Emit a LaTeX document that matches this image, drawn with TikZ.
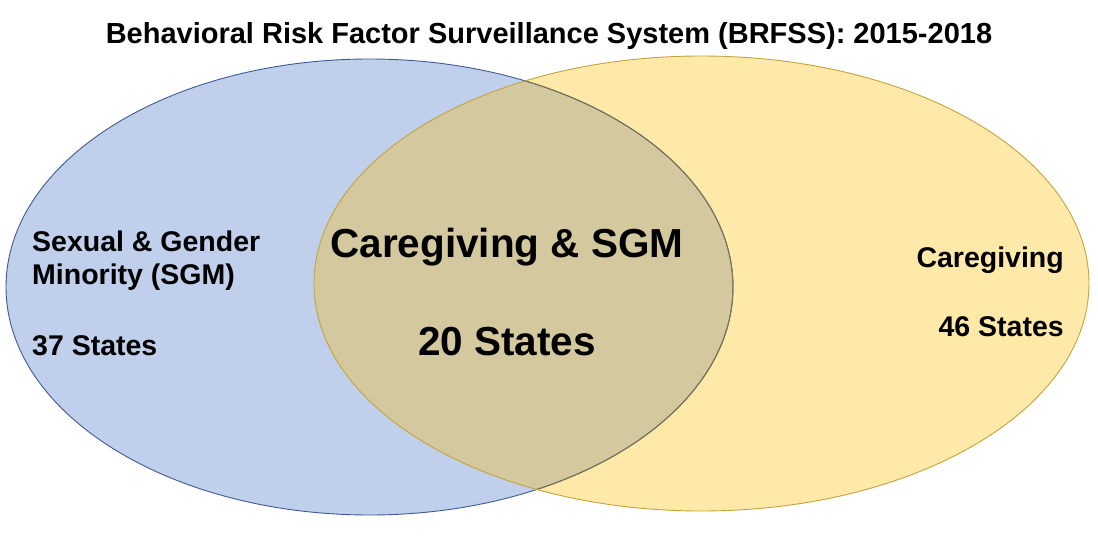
\documentclass[tikz,border=0pt]{standalone}
\usepackage{fontspec}
\setmainfont{Liberation Sans}
\definecolor{bluefill}{HTML}{C0CFEB}
\definecolor{blueline}{HTML}{3E5B94}
\definecolor{yelfill}{HTML}{FEE9A9}
\definecolor{yelline}{HTML}{C4A43C}
\definecolor{overfill}{HTML}{D4C99E}
\definecolor{overline}{HTML}{7E7452}
\tikzset{
  lbl/.style={inner sep=0pt, font=\bfseries\fontsize{28.5}{32}\selectfont},
  big/.style={inner sep=0pt, font=\bfseries\fontsize{40.5}{46}\selectfont},
  ttl/.style={inner sep=0pt, font=\bfseries\fontsize{29}{32}\selectfont}
}
\begin{document}
\begin{tikzpicture}[x=1pt,y=-1pt]
\useasboundingbox (0,0) rectangle (1098,543);
\fill[white] (0,0) rectangle (1098,543);
% ellipse fills
\fill[bluefill] (369.5,287) ellipse [x radius=363.5, y radius=228];
\fill[yelfill] (701.5,283.5) ellipse [x radius=387.5, y radius=227.5];
\begin{scope}
  \clip (369.5,287) ellipse [x radius=363.5, y radius=228];
  \fill[overfill] (701.5,283.5) ellipse [x radius=387.5, y radius=227.5];
\end{scope}
% borders
\draw[blueline, line width=0.9pt] (369.5,287) ellipse [x radius=363.5, y radius=228];
\begin{scope}
  \clip (701.5,283.5) ellipse [x radius=387.5, y radius=227.5];
  \draw[overline, line width=1pt] (369.5,287) ellipse [x radius=363.5, y radius=228];
\end{scope}
\draw[yelline, line width=0.9pt] (701.5,283.5) ellipse [x radius=387.5, y radius=227.5];
% texts
\node[ttl, anchor=base] (title) at (549,44) {Behavioral Risk Factor Surveillance System (BRFSS): 2015-2018};
\node[lbl, anchor=base west] (sgm1) at (32,251) {Sexual \& Gender};
\node[lbl, anchor=base west] (sgm2) at (32,284) {Minority (SGM)};
\node[lbl, anchor=base west] (sgm3) at (32,355) {37 States};
\node[big, anchor=base] (both1) at (507,257.5) {Caregiving \& SGM};
\node[big, anchor=base] (both2) at (507,355) {20 States};
\node[lbl, anchor=base east] (cg1) at (1064,267) {Caregiving};
\node[lbl, anchor=base east] (cg2) at (1064,336) {46 States};
\end{tikzpicture}
\end{document}
